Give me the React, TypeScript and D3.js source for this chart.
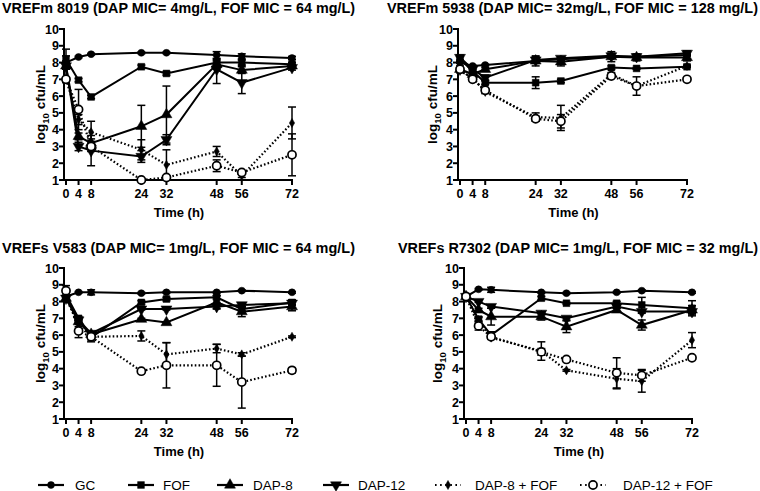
import React from "react";
import * as d3 from "d3";

const times = [0, 4, 8, 24, 32, 48, 56, 72];
const xTicks = [0, 4, 8, 24, 32, 48, 56, 72];
const yTicks = [1, 2, 3, 4, 5, 6, 7, 8, 9, 10];
const seriesNames = ["GC", "FOF", "DAP-8", "DAP-12", "DAP-8 + FOF", "DAP-12 + FOF"];

// Panel 1: VREFm 8019
const p1GC = [8.0, 8.33, 8.5, 8.58, 8.58, 8.45, 8.37, 8.27];
const p1GCsd = [0.1, 0.05, 0.05, 0.05, 0.05, 0.2, 0.15, 0.1];
const p1FOF = [8.2, 6.95, 5.95, 7.75, 7.35, 8.0, 8.0, 7.9];
const p1FOFsd = [0.2, 0.1, 0.1, 0.1, 0.1, 0.1, 0.15, 0.1];
const p1D8 = [7.8, 3.6, 3.2, 4.2, 4.9, 7.9, 7.55, 7.8];
const p1D8sd = [0.2, 0.2, 0.25, 1.25, 1.7, 0.3, 0.2, 0.1];
const p1D12 = [7.8, 3.0, 2.75, 2.4, 3.4, 7.6, 6.8, 7.7];
const p1D12sd = [1.0, 0.25, 0.9, 0.35, 0.3, 0.85, 0.65, 0.15];
const p1D8F = [7.0, 4.6, 3.85, 2.8, 1.9, 2.7, 1.25, 4.4];
const p1D8Fsd = [0, 0.3, 0.65, 0.6, 0.9, 0.3, 0.1, 0.95];
const p1D12F = [7.0, 5.2, 3.0, 1.0, 1.15, 1.85, 1.45, 2.5];
const p1D12Fsd = [0, 1.2, 0.3, 0, 0.1, 0.35, 0.1, 1.25];

// Panel 2: VREFm 5938
const p2GC = [8.0, 7.8, 7.85, 8.1, 8.2, 8.35, 8.35, 8.45];
const p2GCsd = [0.05, 0.05, 0.05, 0.05, 0.05, 0.05, 0.05, 0.05];
const p2FOF = [8.2, 7.5, 6.8, 6.8, 6.9, 7.7, 7.65, 7.75];
const p2FOFsd = [0.2, 0.1, 0.1, 0.35, 0.1, 0.1, 0.05, 0.05];
const p2D8 = [7.6, 7.3, 7.6, 8.1, 8.05, 8.35, 8.3, 8.3];
const p2D8sd = [0.2, 0.1, 0.1, 0.3, 0.25, 0.3, 0.2, 0.2];
const p2D12 = [8.3, 7.6, 7.1, 8.15, 8.25, 8.4, 8.35, 8.55];
const p2D12sd = [0.15, 0.1, 0.15, 0.2, 0.1, 0.15, 0.15, 0.15];
const p2D8F = [7.5, 7.1, 6.25, 4.75, 4.7, 7.3, 6.6, 7.8];
const p2D8Fsd = [0.1, 0.1, 0.1, 0.25, 0.75, 0.1, 0.55, 0.05];
const p2D12F = [7.6, 7.0, 6.35, 4.65, 4.5, 7.2, 6.6, 7.0];
const p2D12Fsd = [0.1, 0.05, 0.1, 0.15, 0.4, 0.05, 0.1, 0.05];

// Panel 3: VREFs V583
const p3GC = [8.3, 8.55, 8.55, 8.5, 8.55, 8.55, 8.65, 8.55];
const p3GCsd = [0.05, 0.05, 0.15, 0.05, 0.05, 0.05, 0.05, 0.05];
const p3FOF = [8.4, 7.0, 5.85, 7.95, 8.15, 8.25, 7.55, 7.95];
const p3FOFsd = [0.2, 0.1, 0.25, 0.1, 0.1, 0.1, 0.1, 0.15];
const p3D8 = [8.2, 6.8, 6.05, 6.95, 6.75, 7.95, 7.4, 7.7];
const p3D8sd = [0.1, 0.1, 0.1, 0.05, 0.05, 0.4, 0.3, 0.25];
const p3D12 = [8.2, 6.9, 6.1, 7.55, 7.55, 7.7, 7.8, 7.9];
const p3D12sd = [0.1, 0.1, 0.1, 0.05, 0.05, 0.1, 0.1, 0.1];
const p3D8F = [8.2, 6.6, 5.9, 5.95, 4.85, 5.2, 4.85, 5.9];
const p3D8Fsd = [0.1, 0.1, 0.1, 0.3, 0.7, 0.25, 0.1, 0.05];
const p3D12F = [8.65, 6.25, 5.9, 3.85, 4.2, 4.2, 3.2, 3.9];
const p3D12Fsd = [0.3, 0.4, 0.1, 0.05, 1.35, 1.25, 1.55, 0.15];

// Panel 4: VREFs R7302
const p4GC = [8.3, 8.73, 8.7, 8.55, 8.5, 8.55, 8.65, 8.55];
const p4GCsd = [0.05, 0.05, 0.15, 0.05, 0.05, 0.05, 0.05, 0.05];
const p4FOF = [8.3, 6.95, 6.0, 8.2, 7.9, 7.9, 7.8, 7.6];
const p4FOFsd = [0.1, 0.1, 0.2, 0.1, 0.05, 0.1, 0.45, 0.45];
const p4D8 = [8.3, 7.5, 7.1, 7.1, 6.5, 7.5, 6.6, 7.5];
const p4D8sd = [0.1, 0.1, 0.5, 0.2, 0.35, 0.1, 0.3, 0.25];
const p4D12 = [8.3, 8.0, 7.7, 7.3, 7.0, 7.7, 7.4, 7.4];
const p4D12sd = [0.05, 0.05, 0.1, 0.1, 0.1, 0.1, 0.1, 0.1];
const p4D8F = [8.3, 6.9, 5.85, 5.05, 3.9, 3.4, 3.25, 5.7];
const p4D8Fsd = [0, 0.2, 0.1, 0.55, 0.05, 0.6, 0.65, 0.45];
const p4D12F = [8.3, 6.55, 5.9, 5.0, 4.55, 3.75, 3.6, 4.65];
const p4D12Fsd = [0, 0.25, 0.1, 0.2, 0.05, 0.9, 0.35, 0.05];

const titles = [
  "VREFm 8019 (DAP MIC= 4mg/L, FOF MIC = 64 mg/L)",
  "VREFm 5938 (DAP MIC= 32mg/L, FOF MIC = 128 mg/L)",
  "VREFs V583 (DAP MIC= 1mg/L, FOF MIC = 64 mg/L)",
  "VREFs R7302 (DAP MIC= 1mg/L, FOF MIC = 32 mg/L)",
];

const panelsData = [
  { vals: [p1GC, p1FOF, p1D8, p1D12, p1D8F, p1D12F], sds: [p1GCsd, p1FOFsd, p1D8sd, p1D12sd, p1D8Fsd, p1D12Fsd] },
  { vals: [p2GC, p2FOF, p2D8, p2D12, p2D8F, p2D12F], sds: [p2GCsd, p2FOFsd, p2D8sd, p2D12sd, p2D8Fsd, p2D12Fsd] },
  { vals: [p3GC, p3FOF, p3D8, p3D12, p3D8F, p3D12F], sds: [p3GCsd, p3FOFsd, p3D8sd, p3D12sd, p3D8Fsd, p3D12Fsd] },
  { vals: [p4GC, p4FOF, p4D8, p4D12, p4D8F, p4D12F], sds: [p4GCsd, p4FOFsd, p4D8sd, p4D12sd, p4D8Fsd, p4D12Fsd] },
];

// layout per panel
const layouts = [
  { x0: 66, x1: 292, yTop: 29, titleX: 2, titleW: 353, titleY: 13, ylabX: 40 },
  { x0: 460, x1: 687, yTop: 29, titleX: 387, titleW: 371, titleY: 13, ylabX: 432 },
  { x0: 66, x1: 292, yTop: 268, titleX: 2, titleW: 353, titleY: 253, ylabX: 40 },
  { x0: 466, x1: 692, yTop: 268, titleX: 398, titleW: 360, titleY: 253, ylabX: 437 },
];
const plotH = 151;
const FONT = "'Liberation Sans', Arial, sans-serif";

const dotted = [false, false, false, false, true, true];

function symbolPath(i: number): { d: string; rot: number; fill: string } {
  const gens = [
    d3.symbol(d3.symbolCircle, 38),
    d3.symbol(d3.symbolSquare, 46),
    d3.symbol(d3.symbolTriangle, 52),
    d3.symbol(d3.symbolTriangle, 52),
    d3.symbol(d3.symbolDiamond, 24),
    d3.symbol(d3.symbolCircle, 52),
  ];
  return { d: gens[i]() as string, rot: i === 3 ? 180 : 0, fill: i === 5 ? "#fff" : "#000" };
}

function Marker({ i, x, y }: { i: number; x: number; y: number }) {
  const s = symbolPath(i);
  return (
    <path
      d={s.d}
      transform={`translate(${x},${y}) rotate(${s.rot})`}
      fill={s.fill}
      stroke="#000"
      strokeWidth={i === 5 ? 1.7 : 0.5}
    />
  );
}

function Panel({ idx }: { idx: number }) {
  const L = layouts[idx];
  const data = panelsData[idx];
  const x = d3.scaleLinear().domain([0, 72]).range([L.x0, L.x1]);
  const y = d3.scaleLinear().domain([1, 10]).range([L.yTop + plotH, L.yTop]);
  const axisX = L.x0 - 2;
  const yBase = y(1);
  const line = d3
    .line<number>()
    .x((_, k) => x(times[k]))
    .y((v) => y(v));
  return (
    <g>
      <text
        x={L.titleX}
        y={L.titleY}
        fontFamily={FONT}
        fontWeight="bold"
        fontSize={14}
        textLength={L.titleW}
        lengthAdjust="spacingAndGlyphs"
      >
        {titles[idx]}
      </text>
      {/* y axis */}
      <line x1={axisX} x2={axisX} y1={y(10) - 1} y2={yBase + 1} stroke="#000" strokeWidth={2} />
      {yTicks.map((t) => (
        <g key={t}>
          <line x1={axisX - 5} x2={axisX} y1={y(t)} y2={y(t)} stroke="#000" strokeWidth={2} />
          <text x={axisX - 5} y={y(t) + 4.5} textAnchor="end" fontFamily={FONT} fontWeight="bold" fontSize={12.5}>
            {t}
          </text>
        </g>
      ))}
      {/* x axis */}
      <line x1={axisX - 1} x2={x(72) + 1} y1={yBase} y2={yBase} stroke="#000" strokeWidth={2} />
      {xTicks.map((t) => (
        <g key={t}>
          <line x1={x(t)} x2={x(t)} y1={yBase} y2={yBase + 5} stroke="#000" strokeWidth={2} />
          <text x={x(t)} y={yBase + 18} textAnchor="middle" fontFamily={FONT} fontWeight="bold" fontSize={12.5}>
            {t}
          </text>
        </g>
      ))}
      <text
        x={(L.x0 + L.x1) / 2}
        y={yBase + 37}
        textAnchor="middle"
        fontFamily={FONT}
        fontWeight="bold"
        fontSize={13}
      >
        Time (h)
      </text>
      <text
        transform={`translate(${L.ylabX + 5},${L.yTop + plotH / 2}) rotate(-90)`}
        textAnchor="middle"
        fontFamily={FONT}
        fontWeight="bold"
        fontSize={13.5}
      >
        log
        <tspan fontSize={9.5} dy={3.5}>10</tspan>
        <tspan dy={-3.5}> cfu/mL</tspan>
      </text>
      {/* error bars */}
      {data.vals.map((vals, si) =>
        vals.map((v, k) => {
          const sd = data.sds[si][k];
          if (!sd) return null;
          const cx = x(times[k]);
          const top = y(Math.min(10, v + sd));
          const bot = y(Math.max(1, v - sd));
          return (
            <g key={`e${si}-${k}`} stroke="#000" strokeWidth={1.5}>
              <line x1={cx} x2={cx} y1={top} y2={bot} />
              <line x1={cx - 4} x2={cx + 4} y1={top} y2={top} />
              <line x1={cx - 4} x2={cx + 4} y1={bot} y2={bot} />
            </g>
          );
        })
      )}
      {/* lines */}
      {data.vals.map((vals, si) => (
        <path
          key={`l${si}`}
          d={line(vals) as string}
          fill="none"
          stroke="#000"
          strokeWidth={dotted[si] ? 2.2 : 2}
          strokeDasharray={dotted[si] ? "1.6 2.2" : undefined}
        />
      ))}
      {/* markers */}
      {data.vals.map((vals, si) =>
        vals.map((v, k) => <Marker key={`m${si}-${k}`} i={si} x={x(times[k])} y={y(v)} />)
      )}
    </g>
  );
}

const legendLineX = [38, 128, 217, 323, 435, 580];
const legendTextX = [75, 163, 253, 358, 475, 623];
const legendY = 485;

function Legend() {
  return (
    <g>
      {seriesNames.map((name, i) => {
        const lx = legendLineX[i];
        return (
          <g key={name}>
            <line
              x1={lx}
              x2={lx + 26}
              y1={legendY}
              y2={legendY}
              stroke="#000"
              strokeWidth={2.2}
              strokeDasharray={dotted[i] ? "1.6 3.5" : undefined}
            />
            <Marker i={i} x={lx + 13} y={legendY} />
            <text x={legendTextX[i]} y={legendY + 4.5} fontFamily={FONT} fontSize={13.5}>
              {name}
            </text>
          </g>
        );
      })}
    </g>
  );
}

export default function App() {
  return (
    <svg
      width={760}
      height={491}
      viewBox="0 0 760 491"
      style={{ position: "absolute", left: 0, top: 0, background: "#fff" }}
    >
      <rect width={760} height={491} fill="#fff" />
      {[0, 1, 2, 3].map((i) => (
        <Panel key={i} idx={i} />
      ))}
      <Legend />
    </svg>
  );
}
